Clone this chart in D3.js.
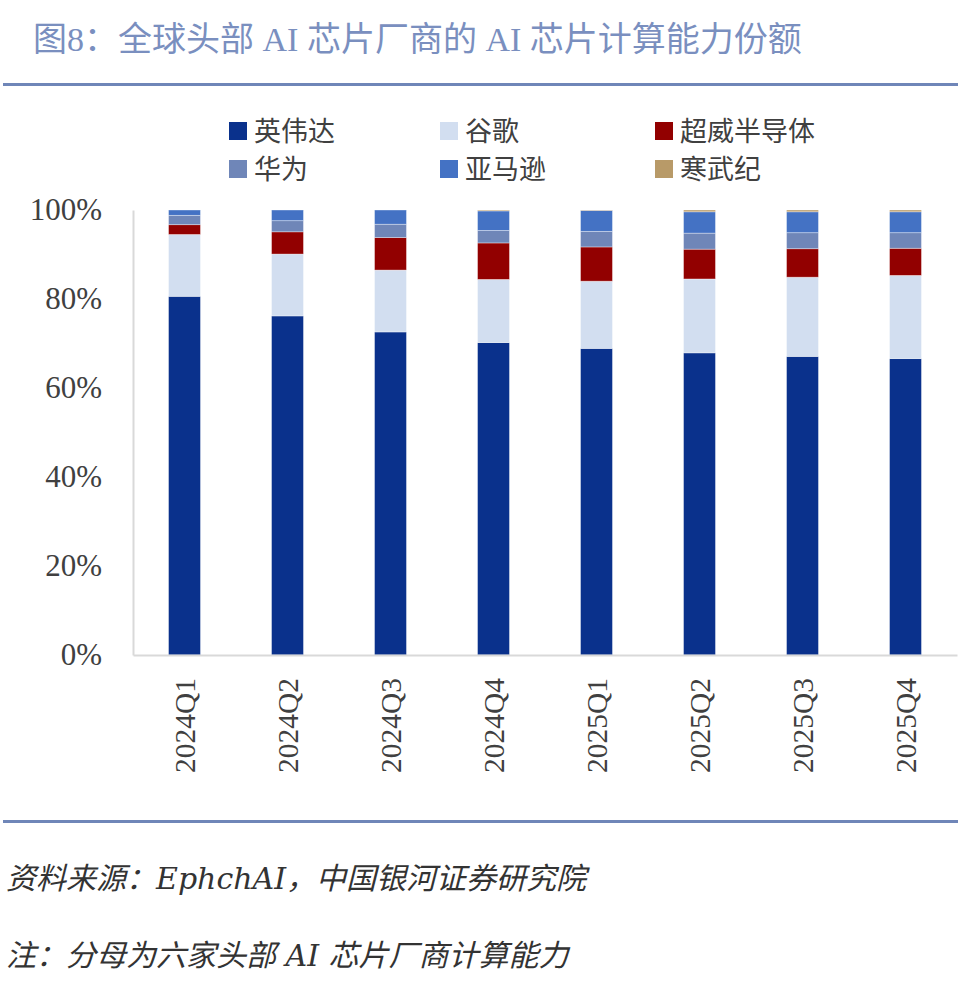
<!DOCTYPE html>
<html>
<head>
<meta charset="utf-8">
<script src="https://cdn.jsdelivr.net/npm/d3@7"></script>
<style>
  body { margin: 0; background: #fff; }
  svg { display: block; }
  text { font-family: "Liberation Serif", "Noto Sans CJK SC", serif; }
</style>
</head>
<body>
<svg id="chart"></svg>
<script>
// Categories and series (share of compute, %)
const quarters = ["2024Q1", "2024Q2", "2024Q3", "2024Q4", "2025Q1", "2025Q2", "2025Q3", "2025Q4"];
const vendors = ["英伟达", "谷歌", "超威半导体", "华为", "亚马逊", "寒武纪"];
const nvidia    = [80.6, 76.2, 72.6, 70.2, 68.9, 67.9, 67.1, 66.6];
const google    = [13.9, 13.9, 13.9, 14.2, 15.1, 16.6, 17.8, 18.7];
const amd       = [2.2, 5.0, 7.3, 8.2, 7.7, 6.7, 6.4, 6.1];
const huawei    = [2.1, 2.5, 3.0, 2.8, 3.5, 3.6, 3.6, 3.5];
const amazon    = [1.2, 2.4, 3.2, 4.4, 4.7, 4.8, 4.7, 4.7];
const cambricon = [0, 0, 0, 0.2, 0.1, 0.4, 0.4, 0.4];
const yTicks = [0, 20, 40, 60, 80, 100];

const colors = ["#0A318C", "#D2DEF0", "#920000", "#6F86B8", "#4472C4", "#B89A68"];

const W = 962, H = 983;
const svg = d3.select("#chart").attr("width", W).attr("height", H);

// Title and rules
svg.append("text")
    .attr("x", 33).attr("y", 51)
    .attr("fill", "#7A8FBF")
    .style("font-size", "34px")
    .text("图8：全球头部 AI 芯片厂商的 AI 芯片计算能力份额");

svg.append("rect").attr("x", 3).attr("y", 83).attr("width", 955).attr("height", 3).attr("fill", "#6F86B8");
svg.append("rect").attr("x", 3).attr("y", 820).attr("width", 955).attr("height", 3).attr("fill", "#6F86B8");

// Build stacked table
const series = [nvidia, google, amd, huawei, amazon, cambricon];
const table = quarters.map((q, i) => {
    const row = { quarter: q };
    vendors.forEach((v, k) => { row[v] = series[k][i]; });
    return row;
});
const stacked = d3.stack().keys(vendors)(table);

// Scales
const x = d3.scaleBand().domain(quarters).range([133, 957]).paddingInner(0.69).paddingOuter(0.345);
const y = d3.scaleLinear().domain([0, 100]).range([655, 210]);

// Bars
svg.append("g").selectAll("g")
    .data(stacked)
    .join("g")
    .attr("fill", (d, i) => colors[i])
    .selectAll("rect")
    .data(d => d)
    .join("rect")
    .attr("x", d => x(d.data.quarter))
    .attr("y", d => y(d[1]))
    .attr("width", x.bandwidth())
    .attr("height", d => Math.max(0, y(d[0]) - y(d[1])))
    .attr("stroke", "#ffffff")
    .attr("stroke-opacity", 0.45)
    .attr("stroke-width", 0.8);

// Y axis
const yAxis = svg.append("g")
    .attr("transform", "translate(133,0)")
    .call(d3.axisLeft(y).tickValues(yTicks).tickFormat(d => d + "%").tickSize(0).tickPadding(31));
yAxis.select(".domain").attr("stroke", "#D9D9D9").attr("stroke-width", 2);
yAxis.selectAll("text").attr("fill", "#404040").style("font-size", "31px")
    .style("font-family", "'Liberation Serif', serif");

// X axis
const xAxis = svg.append("g")
    .attr("transform", "translate(0,655)")
    .call(d3.axisBottom(x).tickSize(0).tickSizeOuter(0).tickPadding(0));
xAxis.select(".domain").attr("stroke", "#D9D9D9").attr("stroke-width", 2);
xAxis.selectAll("text")
    .attr("fill", "#404040")
    .style("font-size", "29.5px")
    .style("font-family", "'Liberation Serif', serif")
    .attr("text-anchor", "end")
    .attr("transform", "translate(0,23) rotate(-90)")
    .attr("x", 0).attr("y", 0).attr("dy", "0.35em");

// Legend
const legendPos = [[229, 131], [440, 131], [655, 131], [229, 169], [440, 169], [655, 169]];
const legend = svg.append("g").selectAll("g")
    .data(vendors)
    .join("g")
    .attr("transform", (d, i) => `translate(${legendPos[i][0]},${legendPos[i][1]})`);
legend.append("rect")
    .attr("x", 0).attr("y", -9).attr("width", 18).attr("height", 18)
    .attr("fill", (d, i) => colors[i]);
legend.append("text")
    .attr("x", 25).attr("dy", "0.36em")
    .attr("fill", "#404040")
    .style("font-size", "27px")
    .text(d => d);

// Notes
const notes = [
    { y: 889, text: "资料来源：EphchAI，中国银河证券研究院" },
    { y: 966, text: "注：分母为六家头部 AI 芯片厂商计算能力" }
];
svg.append("g").selectAll("text")
    .data(notes)
    .join("text")
    .attr("x", 6).attr("y", d => d.y)
    .attr("fill", "#333")
    .style("font-family", "'DejaVu Serif', 'Noto Sans CJK SC', serif")
    .style("font-size", "30px").style("font-style", "italic")
    .text(d => d.text);
</script>
</body>
</html>
